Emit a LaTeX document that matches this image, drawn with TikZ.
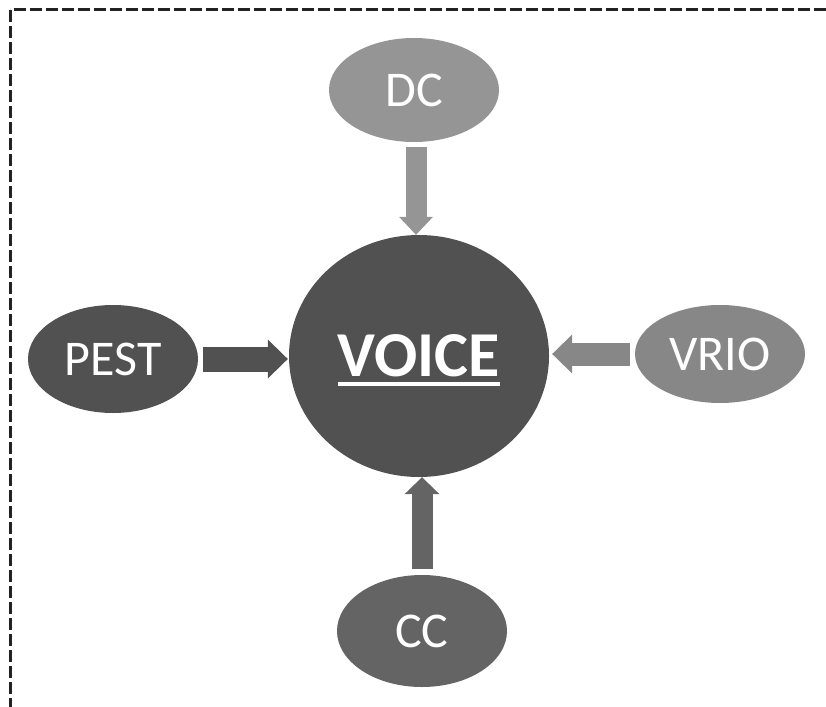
\documentclass[tikz,border=0pt]{standalone}
\usepackage{fontspec}
\setmainfont{Carlito}
\usepackage{tikz}
\usetikzlibrary{shapes.geometric, arrows.meta}

\definecolor{lightgrey}{HTML}{959595}
\definecolor{midgrey}{HTML}{878787}
\definecolor{darkgrey}{HTML}{646464}
\definecolor{deepgrey}{HTML}{515151}
\definecolor{framegrey}{HTML}{222222}

\begin{document}
\begin{tikzpicture}[x=1pt, y=-1pt,
    blob/.style={ellipse, minimum width=170pt, inner sep=0pt, text=white,
      font=\fontsize{50}{50}\selectfont},
    fatarrow/.style={line width=#1}]
        \useasboundingbox (0,0) rectangle (826,706);

        % dashed frame, cut by the page on the right and at the bottom
        \begin{scope}
          \clip (0,0) rectangle (826,706);
          \draw [framegrey, line width=3pt, dash pattern=on 12pt off 4pt]
            (10,10) rectangle (900,800);
        \end{scope}

        % VOICE
        \node [ellipse, fill=deepgrey, minimum width=260pt, minimum height=242pt]
          (voice) at (419,356) {};
        \node [inner sep=0pt, text=white, font=\fontsize{64}{64}\selectfont\bfseries]
          (voicetext) at (voice.center) {VOICE};
        \draw [white, line width=3.5pt]
          ([yshift=-7pt]voicetext.base west) -- ([yshift=-7pt]voicetext.base east);

        % the four frameworks
        \node [blob, fill=lightgrey, minimum height=104pt] (dc)   at (414, 90) {DC};
        \node [blob, fill=deepgrey,  minimum height=108pt] (pest) at (113,359) {PEST};
        \node [blob, fill=midgrey,   minimum height=98pt]  (vrio) at (720,354) {VRIO};
        \node [blob, fill=darkgrey,  minimum height=112pt] (cc)   at (422,631) {CC};

        % block arrows into VOICE
        \draw [fatarrow=21pt, lightgrey, shorten <=5pt,
          -{Triangle[width=34pt, length=18pt, line width=0pt]}]
          ([xshift=2pt]dc.south) -- ([xshift=2pt]dc.south |- voice.north);
        \draw [fatarrow=25pt, deepgrey, shorten <=5pt, shorten >=1pt,
          -{Triangle[width=39pt, length=20pt, line width=0pt]}]
          (pest.east) -- (pest.east -| voice.west);
        \draw [fatarrow=23pt, midgrey, shorten <=5pt, shorten >=3pt,
          -{Triangle[width=39pt, length=20pt, line width=0pt]}]
          (vrio.west) -- (vrio.west -| voice.east);
        \draw [fatarrow=21pt, darkgrey, shorten <=6pt,
          -{Triangle[width=35pt, length=17pt, line width=0pt]}]
          (cc.north) -- (cc.north |- voice.south);

      \end{tikzpicture}
\end{document}
